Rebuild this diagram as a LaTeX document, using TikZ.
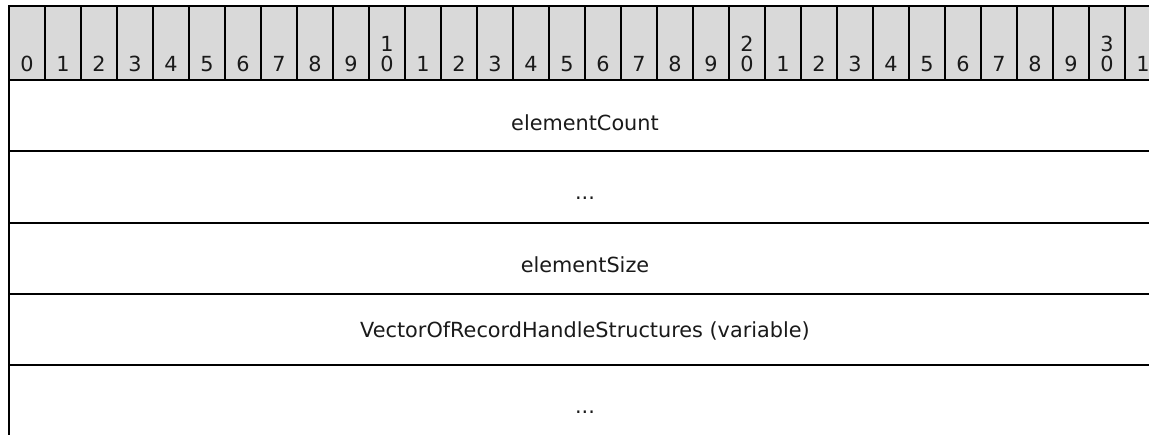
\documentclass[tikz,border=0pt]{standalone}
\usepackage{fontspec}
\setmainfont{DejaVu Sans}
\definecolor{hdrgray}{HTML}{D9D9D9}
\definecolor{txt}{HTML}{1A1A1A}
\begin{document}
\begin{tikzpicture}[x=1pt,y=-1pt,
  hdrcell/.style={draw=black,line width=1.6pt,fill=hdrgray},
  rowbox/.style={draw=black,line width=1.6pt},
  lbl/.style={anchor=base,inner sep=0pt,text=txt,font=\fontsize{20.8}{24}\selectfont},
  num/.style={anchor=base,inner sep=0pt,text=txt,font=\fontsize{20.8}{24}\selectfont}]
\useasboundingbox (0,0) rectangle (1149,434);
\clip (0,0) rectangle (1149,434);
\fill[white] (0,0) rectangle (1149,434);
% header cells
\foreach \i in {0,...,31}{
  \pgfmathsetmacro{\xl}{9+36*\i}
  \pgfmathsetmacro{\xr}{9+36*(\i+1)}
  \pgfmathsetmacro{\xc}{27+36*\i}
  \pgfmathtruncatemacro{\ones}{mod(\i,10)}
  \pgfmathtruncatemacro{\tens}{div(\i,10)}
  \draw[hdrcell] (\xl,6) rectangle (\xr,80);
  \node[num] (h\i) at (\xc,71.7) {\ones};
  \ifnum\ones=0 \ifnum\tens>0
    \node[num] (ht\i) at (\xc,51.7) {\tens};
  \fi\fi
}
% body rows
\draw[rowbox] (9,80) rectangle (1161,151);
\draw[rowbox] (9,151) rectangle (1161,223);
\draw[rowbox] (9,223) rectangle (1161,294);
\draw[rowbox] (9,294) rectangle (1161,365);
\draw[rowbox] (9,365) rectangle (1161,450);
\node[lbl] (r1) at (585,130) {elementCount};
\node[lbl] (r2) at (585,199.5) {...};
\node[lbl] (r3) at (585,272.3) {elementSize};
\node[lbl] (r4) at (585,337.3) {VectorOfRecordHandleStructures (variable)};
\node[lbl] (r5) at (585,413) {...};
\end{tikzpicture}
\end{document}
